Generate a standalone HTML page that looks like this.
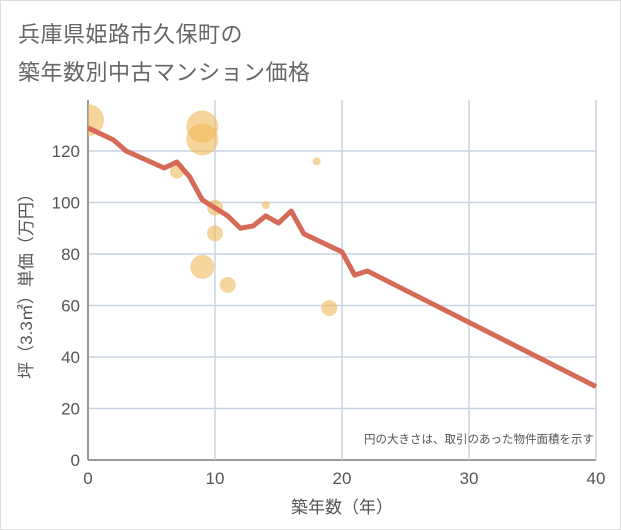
<!DOCTYPE html>
<html><head><meta charset="utf-8"><style>
body{margin:0;background:#fff;}
#wrap{position:relative;width:619px;height:528px;border:1px solid #ddd;background:#fff;overflow:hidden;font-family:"Liberation Sans","Noto Sans CJK JP",sans-serif;}
.title{position:absolute;left:17px;font-size:22px;color:#666;letter-spacing:0.5px;}
</style></head><body>
<div id="wrap">
<div class="title" style="top:16px">兵庫県姫路市久保町の</div>
<div class="title" style="top:54px">築年数別中古マンション価格</div>
<svg id="chart" width="621" height="530" style="position:absolute;left:-1px;top:-1px">
<defs><clipPath id="plotclip"><rect x="88" y="100" width="508" height="360"></rect></clipPath></defs>
</svg>
</div>
<script>
const xTicks=[0,10,20,30,40];
const yTicks=[0,20,40,60,80,100,120];
const lineYears=[0,2,3,6,7,8,9,10,11,12,13,14,15,16,17,20,21,22,40];
const linePrices=[129,124.3,120,113.4,115.7,110,101,97.9,94.8,90,90.9,94.8,92,96.7,87.8,80.8,71.8,73.4,28.5];
const bubbleYears=[0,9,9,7,10,14,18,10,9,11,19];
const bubblePrices=[132,129.5,124.5,112,98,99,116,88,75,68,59];
const bubbleSizes=[16,16,16,7,8,4,4,8,12,8,8];
const NS="http://www.w3.org/2000/svg";
const svg=document.getElementById('chart');
const X0=88,X1=596,Y0=460,YTOP=100;
const xs=v=>X0+(X1-X0)*v/40;
const ys=v=>Y0-v*2.575;
function mk(t,a,p){const e=document.createElementNS(NS,t);for(const k in a)e.setAttribute(k,a[k]);(p||svg).appendChild(e);return e;}
yTicks.forEach(v=>{
 const l=mk('line',{x1:X0,x2:X1,y1:ys(v),y2:ys(v),stroke:v===0?'#999':'#c9d4e3','stroke-width':v===0?2:1.5});
 
 
 const t=mk('text',{x:X0-8,y:ys(v)+6,'text-anchor':'end','font-size':17,fill:'#555'});
 t.textContent=v;
 
 
});
xTicks.forEach(v=>{
 const l=mk('line',{x1:xs(v),x2:xs(v),y1:YTOP,y2:Y0,stroke:v===0?'#999':'#c9d4e3','stroke-width':v===0?2:1.5});
 
 
 const t=mk('text',{x:xs(v),y:Y0+24,'text-anchor':'middle','font-size':17,fill:'#555'});
 t.textContent=v;
 
 
});
const g=mk('g',{'clip-path':'url(#plotclip)'});


bubbleYears.forEach((v,i)=>{
 const c=mk('circle',{cx:xs(v),cy:ys(bubblePrices[i]),r:bubbleSizes[i],fill:'#f0b95a','fill-opacity':0.6},g);
 
 
});
const p=mk('polyline',{points:lineYears.map((v,i)=>xs(v)+','+ys(linePrices[i])).join(' '),fill:'none',stroke:'#d46a57','stroke-width':5,'stroke-linejoin':'round'});


const note=mk('text',{x:594,y:443,'text-anchor':'end','font-size':11.5,fill:'#555'});
note.textContent='円の大きさは、取引のあった物件面積を示す';


const xt=mk('text',{x:342,y:513,'text-anchor':'middle','font-size':17,fill:'#555'});
xt.textContent='築年数（年）';


const yt=mk('text',{x:0,y:0,'text-anchor':'middle','font-size':17,fill:'#555',transform:'translate(32,282) rotate(-90)'});
yt.textContent='坪（3.3㎡）単価（万円）';


</script>
</body></html>
